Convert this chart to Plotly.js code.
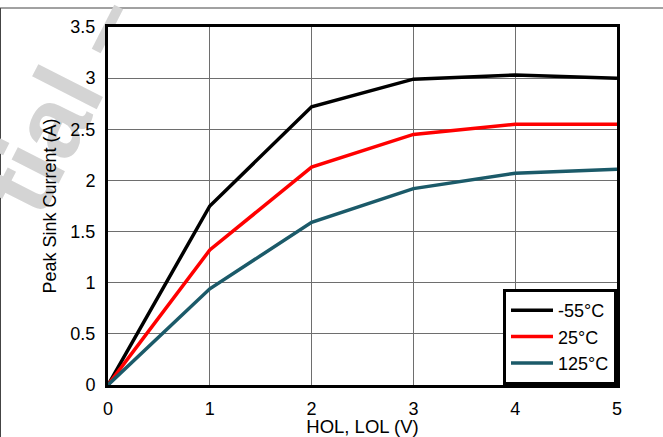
<!DOCTYPE html>
<html><head><meta charset="utf-8">
<script src="https://cdn.plot.ly/plotly-3.0.1.min.js"></script>
<style>html,body{margin:0;padding:0;background:#fff;}
#wrap{position:relative;width:663px;height:437px;}
#bg,#chart{position:absolute;left:0;top:0;width:663px;height:437px;}</style>
</head><body><div id="wrap"><div id="bg"></div><div id="chart"></div></div>
<script>
const xVals = [0, 1, 2, 3, 4, 5];
const seriesNames = ["-55°C", "25°C", "125°C"];
const sMinus55 = [0, 1.75, 2.72, 2.99, 3.03, 3.00];
const s25 = [0, 1.32, 2.13, 2.45, 2.55, 2.55];
const s125 = [0, 0.94, 1.59, 1.92, 2.07, 2.11];
const colors = ["#000000", "#ff0000", "#1b5a69"];
const xTicks = [0, 1, 2, 3, 4, 5];
const yTicks = [0, 0.5, 1, 1.5, 2, 2.5, 3, 3.5];
const watermark = "tial –";

const F = "Liberation Sans, Arial, sans-serif";
const traces = [sMinus55, s25, s125].map((ys, i) => ({
  x: xVals, y: ys, name: seriesNames[i], type: "scatter", mode: "lines",
  line: {color: colors[i], width: 3.5}
}));

const W = 663, H = 437, L = 108, R = 46, T = 27, B = 52;
const pw = W - L - R, ph = H - T - B;
const px = v => (v - L) / pw;
const py = v => (H - B - v) / ph;

// background layer: frame lines and watermark, drawn behind the chart
const bgLayout = {
  width: W, height: H, margin: {l: L, r: R, t: T, b: B},
  paper_bgcolor: "#fff", plot_bgcolor: "#fff",
  xaxis: {visible: false, range: [0, 1]}, yaxis: {visible: false, range: [0, 1]},
  showlegend: false,
  shapes: [
    {type: "line", xref: "paper", yref: "paper", x0: px(0), x1: px(W), y0: py(8), y1: py(8),
     line: {color: "#444", width: 1}},
    {type: "line", xref: "paper", yref: "paper", x0: px(0.5), x1: px(0.5), y0: py(8), y1: py(H),
     line: {color: "#444", width: 1}}
  ],
  annotations: [
    {text: "<b>" + watermark + "</b>", xref: "paper", yref: "paper", x: px(61), y: py(102),
     showarrow: false, textangle: -63, font: {family: F, size: 100, color: "#d4d4d4", weight: 700},
     xanchor: "center", yanchor: "middle"}
  ]
};
Plotly.newPlot("bg", [], bgLayout, {staticPlot: true, displayModeBar: false});

const layout = {
  width: W, height: H,
  margin: {l: L, r: R, t: T, b: B},
  paper_bgcolor: "rgba(0,0,0,0)", plot_bgcolor: "#fff",
  font: {family: F, size: 18, color: "#000"},
  showlegend: true,
  legend: {x: 1, y: 0, xanchor: "right", yanchor: "bottom", bordercolor: "#000", borderwidth: 3,
           bgcolor: "#fff", font: {family: F, size: 18}, tracegroupgap: 0, itemwidth: 42},
  xaxis: {range: [0, 5], tickvals: xTicks, ticktext: xTicks.map(String), showgrid: true,
          gridcolor: "#6e6e6e", gridwidth: 1, zeroline: false, showline: true, linecolor: "#000",
          linewidth: 3, mirror: true, ticks: "", ticklen: 0, ticklabelstandoff: 5,
          tickfont: {family: F, size: 18},
          title: {text: "HOL, LOL (V)", font: {family: F, size: 18.5}, standoff: 2}},
  yaxis: {range: [0, 3.5], tickvals: yTicks, ticktext: yTicks.map(String), showgrid: true,
          gridcolor: "#6e6e6e", gridwidth: 1, zeroline: false, showline: true, linecolor: "#000",
          linewidth: 3, mirror: true, ticks: "", ticklen: 0, ticklabelstandoff: 6,
          tickfont: {family: F, size: 18},
          title: {text: "Peak Sink Current (A)", font: {family: F, size: 18}, standoff: 10}}
};
Plotly.newPlot("chart", traces, layout, {staticPlot: true, displayModeBar: false});
</script></body></html>
